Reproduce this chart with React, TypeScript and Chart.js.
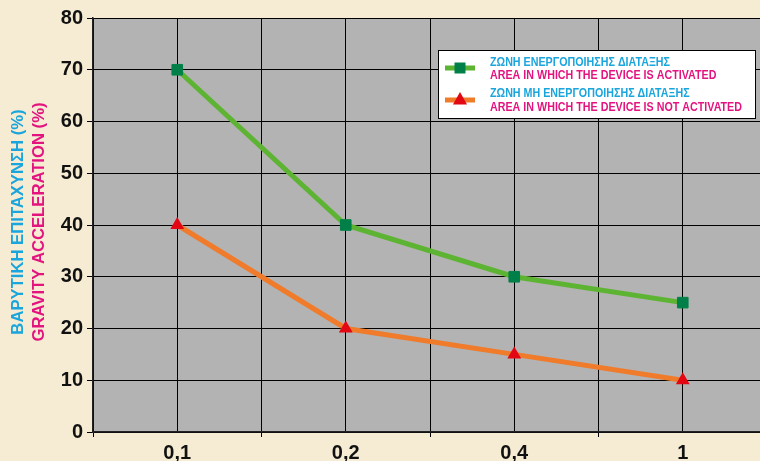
import { useEffect, useRef } from 'react';
import { Chart, registerables } from 'chart.js';

Chart.register(...registerables);

const categories = ['0,1', '0,2', '0,4', '1'];
const activatedValues = [70, 40, 30, 25];
const notActivatedValues = [40, 20, 15, 10];
const yMin = 0;
const yMax = 80;
const yStep = 10;

const legendGreek = ['ΖΩΝΗ ΕΝΕΡΓΟΠΟΙΗΣΗΣ ΔΙΑΤΑΞΗΣ', 'ΖΩΝΗ ΜΗ ΕΝΕΡΓΟΠΟΙΗΣΗΣ ΔΙΑΤΑΞΗΣ'];
const legendEnglish = ['AREA IN WHICH THE DEVICE IS ACTIVATED', 'AREA IN WHICH THE DEVICE IS NOT ACTIVATED'];
const yTitleGreek = 'ΒΑΡΥΤΙΚΗ ΕΠΙΤΑΧΥΝΣΗ (%)';
const yTitleEnglish = 'GRAVITY ACCELERATION (%)';

const CYAN = '#1ba5dd';
const MAGENTA = '#e4147f';
const GREEN_LINE = '#5db432';
const GREEN_MARK = '#008048';
const ORANGE_LINE = '#ef7b2b';
const RED_MARK = '#e30613';
const BEIGE = '#f6ecd4';
const GRAY = '#b3b3b3';
const FONT = '"Liberation Sans", Arial, sans-serif';
const PLOT_RIGHT = 767;

function drawScaledText(ctx: CanvasRenderingContext2D, text: string, x: number, y: number, sx: number) {
  ctx.save();
  ctx.translate(x, y);
  ctx.scale(sx, 1);
  ctx.fillText(text, 0, 0);
  ctx.restore();
}

const decorPlugin = {
  id: 'decor',
  afterLayout(chart: any) {
    // plot area continues slightly past the visible window, as in the reference
    const ca = chart.chartArea;
    ca.right = PLOT_RIGHT;
    ca.width = ca.right - ca.left;
    const x = chart.scales.x;
    x.right = PLOT_RIGHT;
    x.width = x.right - x.left;
    x.configure();
  },
  beforeDraw(chart: any) {
    const { ctx, chartArea } = chart;
    ctx.save();
    ctx.fillStyle = GRAY;
    ctx.fillRect(chartArea.left, chartArea.top, chartArea.right - chartArea.left, chartArea.bottom - chartArea.top);
    ctx.restore();
  },
  afterDraw(chart: any) {
    const { ctx, chartArea } = chart;
    // Y axis title (two colored lines)
    ctx.save();
    ctx.font = `bold 16px ${FONT}`;
    ctx.textAlign = 'center';
    ctx.textBaseline = 'middle';
    const midY = (chartArea.top + chartArea.bottom) / 2 - 3;
    const wEn = ctx.measureText(yTitleEnglish).width;
    const sTitle = 239 / wEn;
    ctx.translate(0, midY);
    ctx.rotate(-Math.PI / 2);
    ctx.fillStyle = CYAN;
    drawScaledText(ctx, yTitleGreek, 0, 19, sTitle);
    ctx.fillStyle = MAGENTA;
    drawScaledText(ctx, yTitleEnglish, 0, 39.5, sTitle);
    ctx.restore();

    // Legend box
    const bx = 438, by = 50, bw = 317, bh = 68;
    ctx.save();
    ctx.fillStyle = '#ffffff';
    ctx.fillRect(bx, by, bw, bh);
    ctx.strokeStyle = '#000000';
    ctx.lineWidth = 1;
    ctx.strokeRect(bx + 0.5, by + 0.5, bw, bh);
    ctx.font = `bold 12px ${FONT}`;
    ctx.textAlign = 'left';
    ctx.textBaseline = 'middle';
    const sLeg = 252 / ctx.measureText(legendEnglish[1]).width;
    const items = [
      { line: GREEN_LINE, mark: GREEN_MARK, style: 'rect', y1: 63, y2: 76, ly: 68 },
      { line: ORANGE_LINE, mark: RED_MARK, style: 'triangle', y1: 94, y2: 108, ly: 100 },
    ];
    items.forEach((it, i) => {
      ctx.strokeStyle = it.line;
      ctx.lineWidth = 5;
      ctx.beginPath();
      ctx.moveTo(445, it.ly);
      ctx.lineTo(475, it.ly);
      ctx.stroke();
      ctx.fillStyle = it.mark;
      if (it.style === 'rect') {
        ctx.fillRect(454.5, it.ly - 5.5, 11, 11);
      } else {
        ctx.beginPath();
        ctx.moveTo(460, it.ly - 8);
        ctx.lineTo(467, it.ly + 4.5);
        ctx.lineTo(453, it.ly + 4.5);
        ctx.closePath();
        ctx.fill();
      }
      ctx.fillStyle = CYAN;
      drawScaledText(ctx, legendGreek[i], 490, it.y1, sLeg);
      ctx.fillStyle = MAGENTA;
      drawScaledText(ctx, legendEnglish[i], 490, it.y2, sLeg);
    });
    ctx.restore();
  },
};

export default function App() {
  const ref = useRef<HTMLCanvasElement | null>(null);

  useEffect(() => {
    if (!ref.current) return;
    const chart: any = new Chart(ref.current, {
      type: 'line',
      data: {
        datasets: [
          {
            label: legendEnglish[0],
            data: activatedValues.map((v, i) => ({ x: i, y: v })),
            borderColor: GREEN_LINE,
            borderWidth: 5,
            pointStyle: 'rect',
            pointRadius: 7.5,
            pointBackgroundColor: GREEN_MARK,
            pointBorderColor: GREEN_MARK,
            pointBorderWidth: 1,
            tension: 0,
          },
          {
            label: legendEnglish[1],
            data: notActivatedValues.map((v, i) => ({ x: i, y: v })),
            borderColor: ORANGE_LINE,
            borderWidth: 5,
            pointStyle: 'triangle',
            pointRadius: 8,
            pointBackgroundColor: RED_MARK,
            pointBorderColor: RED_MARK,
            pointBorderWidth: 0,
            tension: 0,
          },
        ],
      },
      options: {
        responsive: false,
        maintainAspectRatio: false,
        animation: false,
        devicePixelRatio: 1,
        layout: { padding: { top: 18, right: 1, left: 0, bottom: 0 } },
        plugins: {
          legend: { display: false },
          tooltip: { enabled: false },
        },
        scales: {
          x: {
            type: 'linear',
            min: -0.5,
            max: categories.length - 0.5,
            afterFit: (s: any) => { s.height = 29; s.paddingLeft = 0; s.paddingRight = 0; },
            ticks: {
              stepSize: 0.5,
              autoSkip: false,
              maxRotation: 0,
              padding: 4,
              color: '#111',
              font: { family: FONT, size: 20, weight: 'bold' },
              callback: (v: any) => (Number.isInteger(v) ? categories[v] : ''),
            },
            grid: {
              color: '#000',
              lineWidth: 1,
              tickLength: 5,
              tickColor: (c: any) => (Number.isInteger(c.tick?.value) ? 'rgba(0,0,0,0)' : '#000'),
            },
            border: { color: '#222', width: 1.5 },
          },
          y: {
            min: yMin,
            max: yMax,
            afterFit: (s: any) => { s.width = 93; },
            ticks: {
              stepSize: yStep,
              padding: 4,
              color: '#111',
              font: { family: FONT, size: 20, weight: 'bold' },
            },
            grid: { color: '#000', lineWidth: 1, tickLength: 6 },
            border: { color: '#222', width: 1.5 },
          },
        },
      },
      plugins: [decorPlugin],
    });
    return () => chart.destroy();
  }, []);

  return (
    <div style={{ position: 'fixed', left: 0, top: 0, width: 760, height: 461, overflow: 'hidden', background: BEIGE }}>
      <canvas ref={ref} width={768} height={461} style={{ display: 'block', width: 768, height: 461 }} />
    </div>
  );
}
